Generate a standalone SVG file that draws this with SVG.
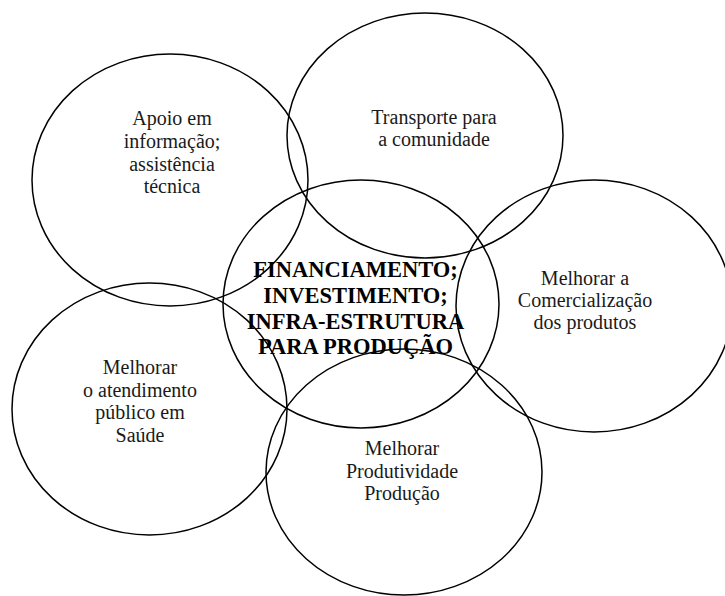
<svg xmlns="http://www.w3.org/2000/svg" width="725" height="596" viewBox="0 0 725 596">
<style>
.c{fill:none;stroke:#000;stroke-width:1.5}
.t{font-family:"Liberation Serif","Times New Roman",serif;font-size:20px;fill:#1a1a1a;text-anchor:middle}
.b{font-family:"Liberation Serif","Times New Roman",serif;font-size:22.5px;font-weight:bold;fill:#000;text-anchor:middle}
</style>
<rect width="725" height="596" fill="#fff"/>
<g id="apoio">
<ellipse class="c" cx="170" cy="180" rx="138" ry="126"/>
<text class="t"><tspan x="172" y="125">Apoio em</tspan><tspan x="172" y="148">informação;</tspan><tspan x="172" y="170.5">assistência</tspan><tspan x="172" y="193">técnica</tspan></text>
</g>
<g id="transporte">
<ellipse class="c" cx="425" cy="135.5" rx="138" ry="122.5"/>
<text class="t"><tspan x="434" y="124">Transporte para</tspan><tspan x="434" y="146">a comunidade</tspan></text>
</g>
<g id="financiamento">
<ellipse class="c" cx="361" cy="304" rx="138" ry="124"/>
<text class="b"><tspan x="355.5" y="277">FINANCIAMENTO;</tspan><tspan x="355.5" y="303">INVESTIMENTO;</tspan><tspan x="355.5" y="328.5">INFRA-ESTRUTURA</tspan><tspan x="355.5" y="353.5">PARA PRODUÇÃO</tspan></text>
</g>
<g id="comercializacao">
<ellipse class="c" cx="594" cy="306" rx="138" ry="126"/>
<text class="t"><tspan x="585" y="284.5">Melhorar a</tspan><tspan x="585" y="306.5">Comercialização</tspan><tspan x="585" y="329">dos produtos</tspan></text>
</g>
<g id="saude">
<ellipse class="c" cx="149.5" cy="409" rx="137.5" ry="126"/>
<text class="t"><tspan x="140" y="374">Melhorar</tspan><tspan x="140" y="396.5">o atendimento</tspan><tspan x="140" y="419">público em</tspan><tspan x="140" y="441.5">Saúde</tspan></text>
</g>
<g id="producao">
<ellipse class="c" cx="404" cy="472" rx="138" ry="123"/>
<text class="t"><tspan x="402" y="455">Melhorar</tspan><tspan x="402" y="477.5">Produtividade</tspan><tspan x="402" y="499.5">Produção</tspan></text>
</g>
</svg>
